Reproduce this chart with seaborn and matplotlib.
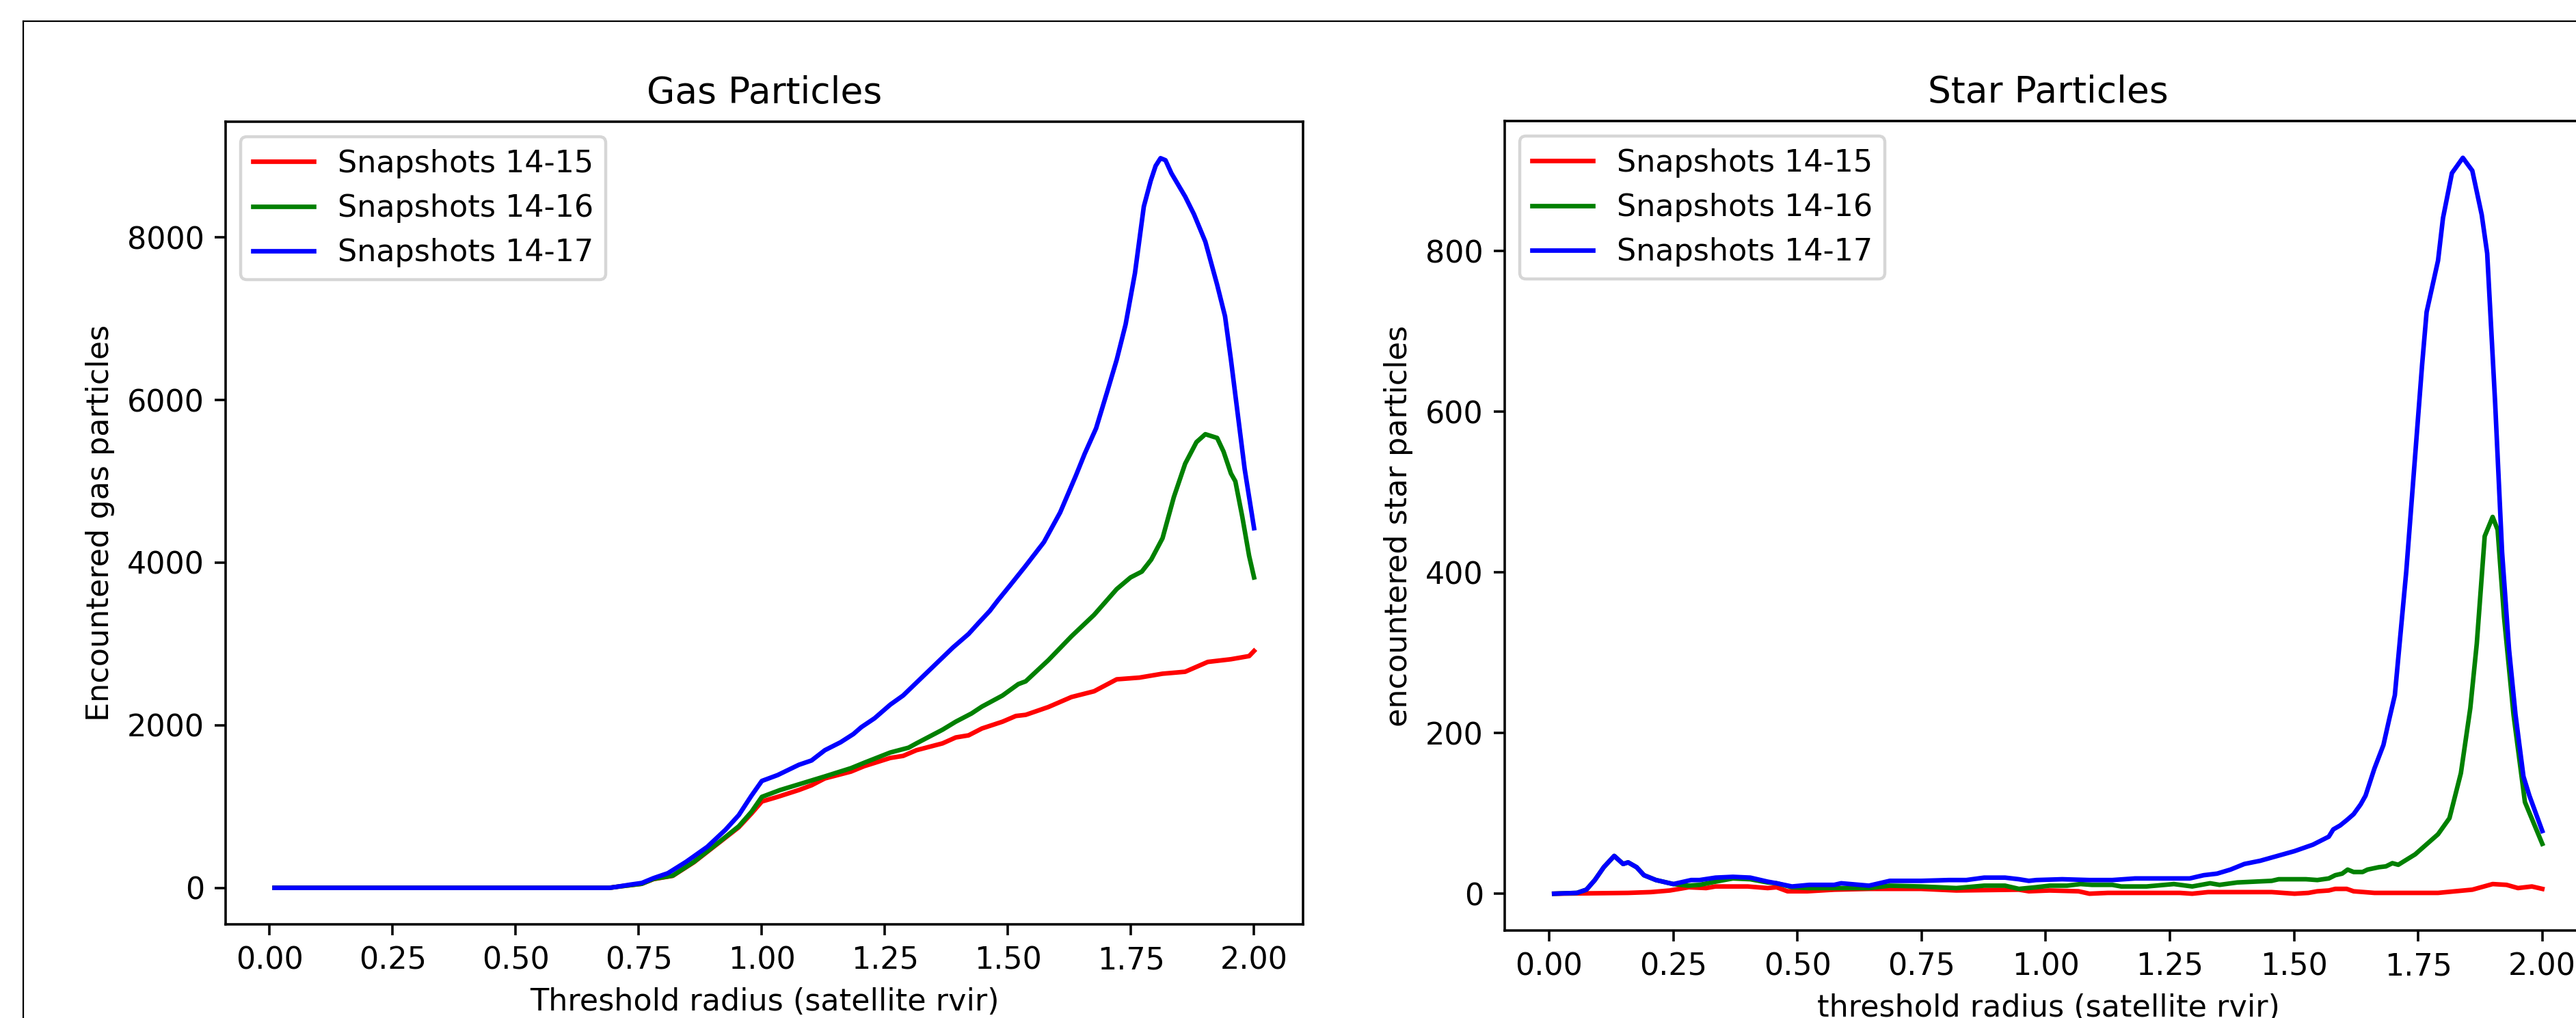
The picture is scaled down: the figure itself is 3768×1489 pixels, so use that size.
import matplotlib
matplotlib.use("Agg")
import matplotlib.pyplot as plt
from matplotlib.lines import Line2D
import seaborn as sns
import pandas as pd

LABELS = ['Snapshots 14-15', 'Snapshots 14-16', 'Snapshots 14-17']
PALETTE = {'Snapshots 14-15': 'red', 'Snapshots 14-16': 'green', 'Snapshots 14-17': 'blue'}

# gas particles (left panel)
GAS_X_1415 = [0.01, 0.30, 0.69, 0.703, 0.756, 0.78, 0.819, 0.862, 0.915, 0.953, 0.979, 1.0,
              1.032, 1.075, 1.101, 1.128, 1.181, 1.208, 1.261, 1.287, 1.314, 1.367, 1.394, 1.42,
              1.447, 1.489, 1.516, 1.536, 1.582, 1.629, 1.675, 1.721, 1.767, 1.814, 1.86, 1.906,
              1.953, 1.99, 2.0]
GAS_Y_1415 = [0, 0, 0, 11, 50, 108, 148, 315, 565, 745, 915, 1062,
              1119, 1203, 1262, 1346, 1430, 1497, 1598, 1623, 1693, 1777, 1850, 1876,
              1960, 2044, 2114, 2128, 2224, 2347, 2418, 2565, 2586, 2634, 2658, 2779,
              2812, 2851, 2914]

GAS_X_1416 = [0.01, 0.30, 0.69, 0.703, 0.756, 0.78, 0.819, 0.862, 0.915, 0.953, 0.979, 1.0,
              1.037, 1.075, 1.128, 1.181, 1.208, 1.261, 1.298, 1.314, 1.367, 1.394, 1.426, 1.447,
              1.489, 1.521, 1.536, 1.582, 1.629, 1.675, 1.721, 1.749, 1.772, 1.791, 1.814, 1.837,
              1.86, 1.883, 1.901, 1.925, 1.938, 1.953, 1.962, 1.976, 1.99, 2.0]
GAS_Y_1416 = [0, 0, 0, 11, 50, 110, 151, 320, 572, 757, 936, 1119,
              1203, 1273, 1371, 1472, 1539, 1665, 1724, 1777, 1945, 2044, 2145, 2229,
              2366, 2506, 2540, 2800, 3094, 3358, 3675, 3818, 3890, 4037, 4300, 4806,
              5217, 5483, 5580, 5534, 5366, 5097, 5000, 4567, 4082, 3818]

GAS_X_1417 = [0.01, 0.30, 0.69, 0.703, 0.733, 0.756, 0.78, 0.809, 0.846, 0.889, 0.926, 0.953,
              0.979, 1.0, 1.032, 1.075, 1.101, 1.128, 1.16, 1.186, 1.202, 1.229, 1.261, 1.287,
              1.34, 1.388, 1.42, 1.441, 1.463, 1.479, 1.505, 1.536, 1.573, 1.606, 1.638, 1.656,
              1.679, 1.702, 1.721, 1.739, 1.758, 1.776, 1.79, 1.80, 1.81, 1.82, 1.832, 1.86,
              1.878, 1.901, 1.925, 1.941, 1.953, 1.967, 1.981, 2.0]
GAS_Y_1417 = [0, 0, 0, 11, 40, 60, 120, 180, 320, 504, 714, 894,
              1135, 1315, 1387, 1513, 1567, 1693, 1791, 1892, 1976, 2086, 2254, 2366,
              2675, 2955, 3123, 3263, 3406, 3532, 3726, 3961, 4252, 4617, 5071, 5341,
              5652, 6110, 6497, 6930, 7561, 8380, 8697, 8880, 8975, 8950, 8790, 8503,
              8284, 7948, 7418, 7031, 6497, 5820, 5147, 4424]

# star particles (right panel)
STAR_X_1415 = [0.01, 0.159, 0.205, 0.243, 0.281, 0.316, 0.335, 0.40, 0.44, 0.458, 0.48, 0.52,
               0.574, 0.644, 0.749, 0.82, 0.946, 0.966, 1.008, 1.066, 1.088, 1.125, 1.27, 1.295,
               1.327, 1.455, 1.501, 1.529, 1.547, 1.57, 1.583, 1.606, 1.62, 1.662, 1.71, 1.79,
               1.859, 1.9, 1.928, 1.951, 1.979, 2.0]
STAR_Y_1415 = [0, 1, 2, 4, 8, 7, 9, 9, 7, 8, 3, 3,
               5, 6, 6, 4, 5, 3, 4, 3, 0, 1, 1, 0,
               2, 2, 0, 1, 3, 4, 6, 6, 3, 1, 1, 1,
               5, 12, 11, 7, 9, 6]

STAR_X_1416 = [0.01, 0.056, 0.075, 0.092, 0.11, 0.131, 0.149, 0.159, 0.176, 0.191, 0.215, 0.25,
               0.28, 0.303, 0.335, 0.37, 0.405, 0.44, 0.458, 0.489, 0.524, 0.574, 0.644, 0.686,
               0.749, 0.82, 0.876, 0.918, 0.946, 0.98, 1.008, 1.043, 1.07, 1.093, 1.134, 1.152,
               1.203, 1.258, 1.295, 1.331, 1.35, 1.386, 1.455, 1.469, 1.524, 1.547, 1.57, 1.583,
               1.597, 1.608, 1.62, 1.638, 1.648, 1.671, 1.685, 1.698, 1.71, 1.744, 1.79, 1.813,
               1.836, 1.855, 1.868, 1.884, 1.9, 1.91, 1.923, 1.942, 1.965, 2.0]
STAR_Y_1416 = [0, 1, 5, 17, 33, 47, 37, 39, 33, 23, 17, 12,
               10, 11, 15, 19, 18, 14, 13, 8, 7, 7, 7, 10,
               9, 7, 10, 10, 6, 8, 10, 10, 12, 11, 11, 9,
               9, 12, 9, 13, 11, 14, 16, 18, 18, 17, 19, 23,
               25, 30, 27, 27, 30, 33, 34, 38, 36, 49, 74, 94,
               150, 231, 311, 445, 469, 453, 344, 223, 114, 62]

STAR_X_1417 = [0.01, 0.056, 0.075, 0.092, 0.11, 0.131, 0.149, 0.159, 0.176, 0.191, 0.215, 0.25,
               0.286, 0.303, 0.335, 0.37, 0.405, 0.44, 0.458, 0.489, 0.524, 0.574, 0.588, 0.644,
               0.686, 0.749, 0.805, 0.84, 0.876, 0.918, 0.946, 0.966, 0.981, 1.033, 1.088, 1.134,
               1.18, 1.226, 1.29, 1.318, 1.345, 1.372, 1.4, 1.432, 1.455, 1.478, 1.501, 1.538,
               1.57, 1.579, 1.593, 1.607, 1.62, 1.634, 1.644, 1.662, 1.68, 1.692, 1.703, 1.726,
               1.744, 1.758, 1.767, 1.79, 1.8, 1.818, 1.84, 1.859, 1.878, 1.889, 1.905, 1.919,
               1.933, 1.946, 1.962, 1.974, 2.0]
STAR_Y_1417 = [0, 1, 5, 17, 33, 47, 37, 39, 33, 23, 17, 12,
               17, 17, 20, 21, 20, 15, 13, 9, 11, 11, 13, 10,
               16, 16, 17, 17, 20, 20, 18, 16, 17, 18, 17, 17,
               19, 19, 19, 23, 25, 30, 37, 41, 45, 49, 53, 61,
               71, 80, 85, 92, 99, 111, 122, 156, 185, 218, 247, 401,
               546, 659, 724, 788, 841, 897, 916, 900, 845, 797, 611, 425,
               304, 223, 146, 122, 78]

TICKS_X = [0.0, 0.25, 0.5, 0.75, 1.0, 1.25, 1.5, 1.75, 2.0]


def long_frame(series):
    frames = []
    for label, (xs, ys) in zip(LABELS, series):
        frames.append(pd.DataFrame({'radius': xs, 'count': ys, 'snapshots': label}))
    return pd.concat(frames, ignore_index=True)


def draw_panel(ax, df, title, xlabel, ylabel):
    sns.lineplot(
        data = df,
        x = 'radius',
        y = 'count',
        hue = 'snapshots',
        hue_order = LABELS,
        palette = PALETTE,
        errorbar = None,
        linewidth = 1.5,
        ax = ax,
    )
    sns.move_legend(ax, 'upper left', title = None)
    ax.set_xticks(TICKS_X)
    ax.set_title(title)
    ax.set_xlabel(xlabel)
    ax.set_ylabel(ylabel)


def main() -> None:
    W, H = 3768, 1489
    DPI = 320
    fig = plt.figure(figsize = (W / DPI, H / DPI), dpi = DPI)

    ax_gas = fig.add_axes([330 / W, 137 / H, 1576 / W, 1174 / H])
    ax_star = fig.add_axes([2201 / W, 128 / H, 1590 / W, 1184 / H])

    gas = long_frame([(GAS_X_1415, GAS_Y_1415), (GAS_X_1416, GAS_Y_1416), (GAS_X_1417, GAS_Y_1417)])
    star = long_frame([(STAR_X_1415, STAR_Y_1415), (STAR_X_1416, STAR_Y_1416), (STAR_X_1417, STAR_Y_1417)])

    draw_panel(ax_gas, gas, 'Gas Particles', 'Threshold radius (satellite rvir)', 'Encountered gas particles')
    draw_panel(ax_star, star, 'Star Particles', 'threshold radius (satellite rvir)', 'encountered star particles')

    # outer frame of the original (cropped) figure
    x0, y0 = 34 / W, 1 - 31 / H
    fig.add_artist(Line2D([x0, 1.0], [y0, y0], transform = fig.transFigure, color = 'black', linewidth = 0.5))
    fig.add_artist(Line2D([x0, x0], [0.0, y0], transform = fig.transFigure, color = 'black', linewidth = 0.5))

    fig.savefig('out.png', dpi = DPI)


if __name__ == '__main__':
    main()
